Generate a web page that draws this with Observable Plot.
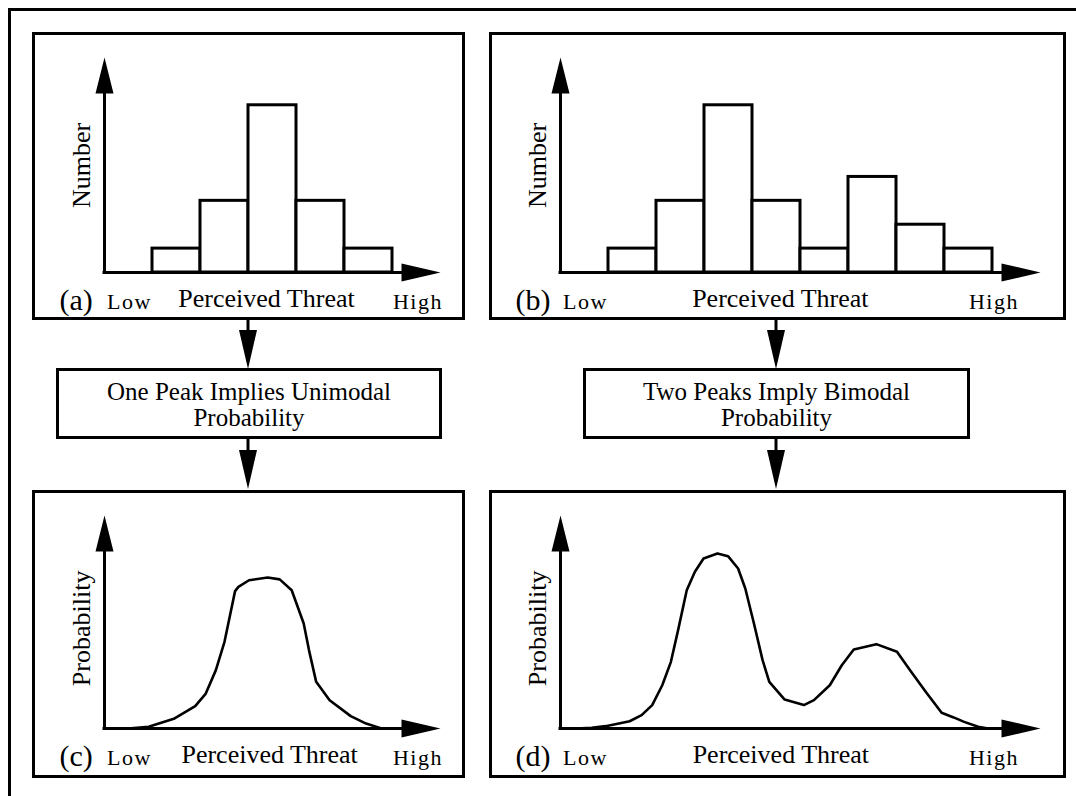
<!DOCTYPE html>
<html><head><meta charset="utf-8">
<script src="https://cdn.jsdelivr.net/npm/d3@7"></script>
<script src="https://cdn.jsdelivr.net/npm/@observablehq/plot@0.6"></script>
<style>
html,body{margin:0;padding:0;background:#fff;}
#root{position:relative;width:1076px;height:796px;overflow:hidden;font-family:"Liberation Serif","Times New Roman",serif;color:#000;}
.frame{position:absolute;left:8px;top:8px;width:1200px;height:900px;border-top:3px solid #000;border-left:3px solid #000;}
.panel{position:absolute;box-sizing:border-box;border:3px solid #000;background:#fff;}
.panel svg{display:block;}
.note{position:absolute;box-sizing:border-box;border:3px solid #000;background:#fff;text-align:center;font-size:25px;line-height:25.5px;padding-top:8px;white-space:nowrap;}
</style></head><body><div id="root"><div class="frame"></div></div>
<script>
// ---------------- data ----------------
const countsUnimodal = [1, 3, 7, 3, 1];
const countsBimodal = [1, 3, 7, 3, 1, 4, 2, 1];

const probUniX = [0.49, 0.92, 1.46, 1.89, 2.11, 2.32, 2.50, 2.72, 2.79, 3.01, 3.40, 3.65, 3.90, 4.15, 4.26, 4.41, 4.69, 5.13, 5.45, 5.77];
const probUniY = [0, 0.8, 4.7, 10.5, 16.4, 27.4, 40.7, 64.5, 66.5, 69.6, 70.9, 70.0, 64.9, 49.3, 36.8, 21.9, 13.3, 5.8, 2.3, 0];

const probBiX = [0.33, 0.65, 0.94, 1.44, 1.69, 1.91, 2.12, 2.30, 2.45, 2.63, 2.80, 2.98, 3.27, 3.49, 3.70, 3.85, 4.03, 4.21, 4.35, 4.67, 5.07, 5.28, 5.61, 5.86, 6.11, 6.58, 7.01, 7.29, 7.62, 7.94, 8.19, 8.41, 8.70, 8.91];
const probBiY = [0, 0.3, 1.1, 3.4, 6.3, 11.0, 20.3, 31.3, 46.2, 64.9, 73.6, 79.8, 82.2, 80.9, 75.1, 65.7, 49.3, 32.1, 21.9, 13.6, 11.0, 13.3, 20.3, 29.7, 37.1, 39.6, 36.0, 27.1, 16.9, 7.4, 5.2, 3.1, 0.8, 0];

const panelLetters = ["(a)", "(b)", "(c)", "(d)"];
const xTitle = "Perceived Threat";
const lowLabel = "Low";
const highLabel = "High";
const yTitles = ["Number", "Number", "Probability", "Probability"];
const notes = [["One Peak Implies Unimodal", "Probability"], ["Two Peaks Imply Bimodal", "Probability"]];

// ---------------- helpers ----------------
const FONT = '"Liberation Serif","Times New Roman",serif';
function arrowHead(len) {
  return {draw(ctx, size) {
    const r = Math.sqrt(size / Math.PI);
    ctx.moveTo(0, 0); ctx.lineTo(r, len); ctx.lineTo(-r, len); ctx.closePath();
  }};
}

// panel layout: [left, top, width, height] of the bordered box
const boxes = [[32, 32, 433, 288], [489, 32, 577, 288], [32, 490, 433, 288], [489, 490, 577, 288]];

function makePanel(k, cfg) {
  const [L, T, W, H] = boxes[k];
  const iw = W - 6, ih = H - 6;
  const [x0, x1] = cfg.xDomain, [y0, y1] = cfg.yDomain;
  const pxPerX = (cfg.xRange[1] - cfg.xRange[0]) / (x1 - x0);
  const pxPerY = (cfg.yRange[0] - cfg.yRange[1]) / (y1 - y0);
  const marks = [];
  marks.push(...cfg.dataMarks);
  // axes
  marks.push(Plot.ruleY([0], {x1: 0, x2: x1 - 20 / pxPerX, stroke: "black", strokeWidth: 3, strokeLinecap: "square"}));
  marks.push(Plot.ruleX([0], {y1: 0, y2: y1 - 18 / pxPerY, stroke: "black", strokeWidth: 3, strokeLinecap: "square"}));
  marks.push(Plot.dot([{x: 0, y: y1}], {x: "x", y: "y", symbol: arrowHead(36), r: 9, fill: "black", stroke: "none"}));
  marks.push(Plot.dot([{x: x1, y: 0}], {x: "x", y: "y", symbol: arrowHead(39), r: 9, rotate: 90, fill: "black", stroke: "none"}));
  // labels
  const by = -cfg.labelDrop / pxPerY;
  marks.push(Plot.text([panelLetters[k]], {x: -45 / pxPerX, y: -(cfg.labelDrop + 2) / pxPerY, text: d => d, textAnchor: "start", lineAnchor: "bottom", fontSize: 30, fill: "black"}));
  marks.push(Plot.text([lowLabel], {x: 2.5 / pxPerX, y: by - 1 / pxPerY, text: d => d, textAnchor: "start", lineAnchor: "bottom", fontSize: 22, fill: "black"}));
  marks.push(Plot.text([highLabel], {x: cfg.highX, y: by - 1 / pxPerY, text: d => d, textAnchor: "end", lineAnchor: "bottom", fontSize: 22, fill: "black"}));
  marks.push(Plot.text([xTitle], {x: cfg.titleX, y: by + 1 / pxPerY, text: d => d, textAnchor: "middle", lineAnchor: "bottom", fontSize: 26, fill: "black"}));
  marks.push(Plot.text([yTitles[k]], {x: -15 / pxPerX, y: cfg.yTitleY, text: d => d, rotate: -90, textAnchor: "middle", lineAnchor: "bottom", fontSize: 26, fill: "black"}));

  const svg = Plot.plot({
    width: iw, height: ih,
    marginTop: 0, marginRight: 0, marginBottom: 0, marginLeft: 0,
    x: {domain: cfg.xDomain, range: cfg.xRange, axis: null},
    y: {domain: cfg.yDomain, range: cfg.yRange, axis: null},
    style: {fontFamily: FONT, background: "transparent", overflow: "visible", color: "black"},
    marks
  });
  d3.select(svg).selectAll("text").filter(function() {
    return this.textContent === lowLabel || this.textContent === highLabel;
  }).attr("letter-spacing", "1.5px");
  const div = document.createElement("div");
  div.className = "panel";
  Object.assign(div.style, {left: L + "px", top: T + "px", width: W + "px", height: H + "px"});
  div.appendChild(svg);
  document.getElementById("root").appendChild(div);
}

// overlay for connector arrows (drawn first, under the boxes)
const root = d3.select("#root");
const ov = root.append("svg").attr("width", 1076).attr("height", 796)
  .style("position", "absolute").style("left", 0).style("top", 0);
for (const cx of [248, 776]) {
  ov.append("line").attr("x1", cx).attr("x2", cx).attr("y1", 318).attr("y2", 340).attr("stroke", "black").attr("stroke-width", 3);
  ov.append("path").attr("d", `M${cx},369L${cx + 9},330L${cx - 9},330Z`).attr("fill", "black");
  ov.append("line").attr("x1", cx).attr("x2", cx).attr("y1", 437).attr("y2", 460).attr("stroke", "black").attr("stroke-width", 3);
  ov.append("path").attr("d", `M${cx},489L${cx + 9},450L${cx - 9},450Z`).attr("fill", "black");
}

// ---------------- panels ----------------
const rectData = arr => arr.map((c, i) => ({x1: i + 1, x2: i + 2, y: c}));

makePanel(0, {
  xDomain: [0, 7], xRange: [69, 405], yDomain: [0, 9], yRange: [237, 22],
  labelDrop: 35, highX: 7.05, titleX: 3.375, yTitleY: 4.48,
  dataMarks: [Plot.rectY(rectData(countsUnimodal), {x1: "x1", x2: "x2", y: "y", fill: "white", stroke: "black", strokeWidth: 3})]
});
makePanel(1, {
  xDomain: [0, 10], xRange: [68, 548], yDomain: [0, 9], yRange: [237, 22],
  labelDrop: 35, highX: 9.55, titleX: 4.58, yTitleY: 4.48,
  dataMarks: [Plot.rectY(rectData(countsBimodal), {x1: "x1", x2: "x2", y: "y", fill: "white", stroke: "black", strokeWidth: 3})]
});
makePanel(2, {
  xDomain: [0, 7], xRange: [69, 405], yDomain: [0, 100], yRange: [235, 22],
  labelDrop: 35, highX: 7.05, titleX: 3.44, yTitleY: 47,
  dataMarks: [Plot.line(probUniX.map((x, i) => ({x, y: probUniY[i]})), {x: "x", y: "y", stroke: "black", strokeWidth: 2.6, strokeLinejoin: "round"})]
});
makePanel(3, {
  xDomain: [0, 10], xRange: [68, 548], yDomain: [0, 100], yRange: [235, 22],
  labelDrop: 35, highX: 9.55, titleX: 4.59, yTitleY: 47,
  dataMarks: [Plot.line(probBiX.map((x, i) => ({x, y: probBiY[i]})), {x: "x", y: "y", stroke: "black", strokeWidth: 2.6, strokeLinejoin: "round"})]
});

// ---------------- note boxes ----------------
const noteBoxes = [[56, 368, 386, 71], [583, 368, 387, 71]];
notes.forEach((lines, i) => {
  const [L, T, W, H] = noteBoxes[i];
  const div = document.createElement("div");
  div.className = "note";
  Object.assign(div.style, {left: L + "px", top: T + "px", width: W + "px", height: H + "px"});
  div.innerHTML = lines.map(s => `<div>${s}</div>`).join("");
  document.getElementById("root").appendChild(div);
});
</script>
</body></html>
